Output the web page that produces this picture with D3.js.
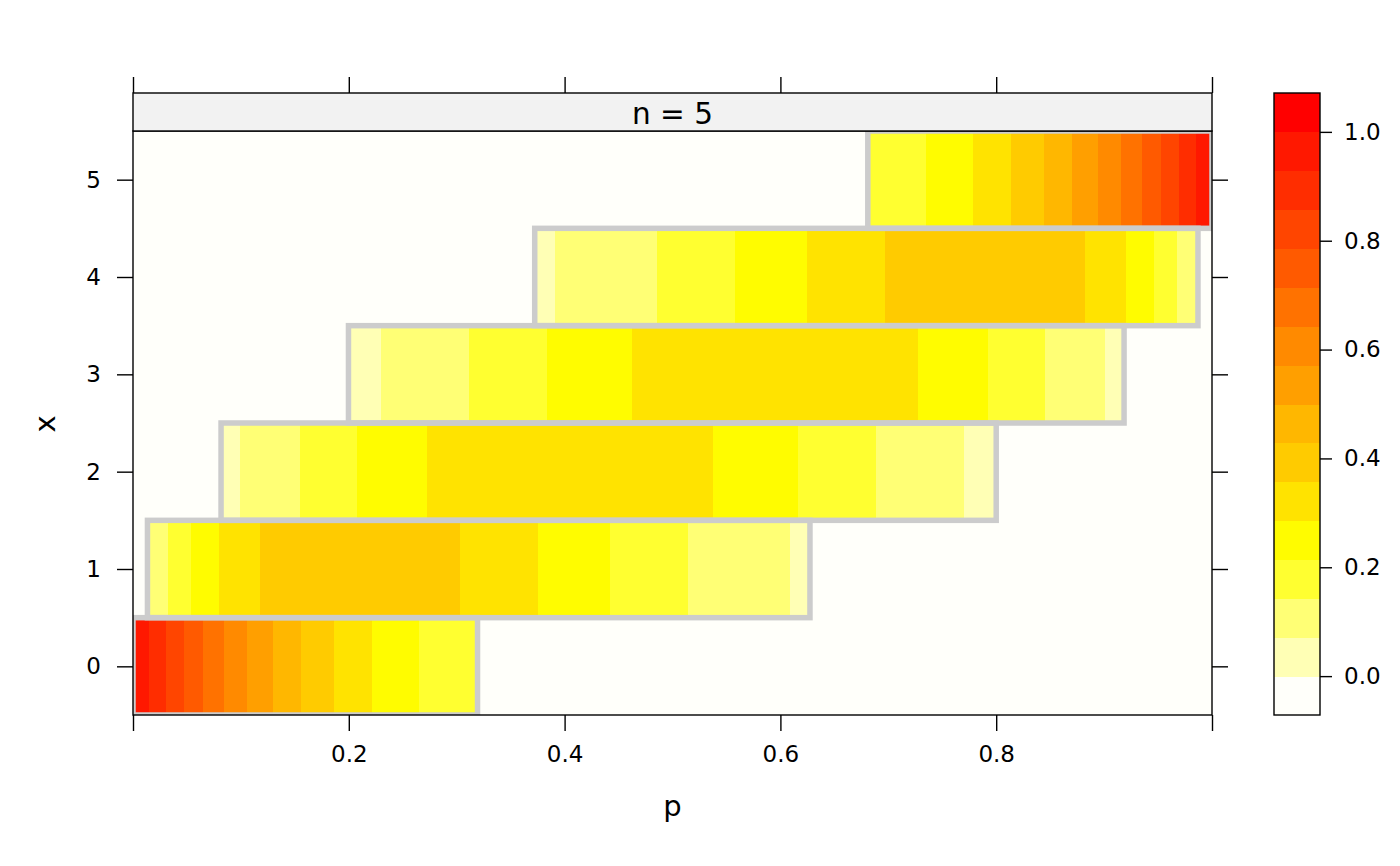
<!DOCTYPE html>
<html>
<head>
<meta charset="utf-8">
<script src="https://cdn.jsdelivr.net/npm/d3@7"></script>
<style>
  html, body { margin: 0; padding: 0; background: #ffffff; }
  svg { display: block; }
  text { font-family: "DejaVu Sans", sans-serif; fill: #000; }
</style>
</head>
<body>
<svg id="chart" width="1400" height="866"></svg>
<script>
// ---------------- data ----------------
const panelTitle = "n = 5";
const xLabel = "p";
const yLabel = "x";
const rowsX = [0, 1, 2, 3, 4, 5];

// outlined (accepted) p-range for each x
const regionLower = [0.0, 0.0134, 0.0816, 0.1997, 0.3723, 0.681];
const regionUpper = [0.3193, 0.6274, 0.800, 0.9185, 0.9870, 1.0];

// colour-band breakpoints inside each outlined range and the band values
const breaksX0 = [0.0147, 0.0304, 0.0471, 0.0651, 0.0846, 0.1059, 0.1295, 0.1559, 0.1861, 0.2216, 0.2651];
const valuesX0 = [0.96, 0.89, 0.82, 0.75, 0.68, 0.61, 0.54, 0.46, 0.39, 0.32, 0.25, 0.18];

const breaksX1 = [0.0152, 0.0326, 0.0534, 0.0797, 0.118, 0.3035, 0.3754, 0.442, 0.5146, 0.6087];
const valuesX1 = [0.06, 0.11, 0.18, 0.25, 0.32, 0.39, 0.32, 0.25, 0.18, 0.11, 0.06];

const breaksX2 = [0.0988, 0.1545, 0.2077, 0.2723, 0.5372, 0.6166, 0.6890, 0.7706];
const valuesX2 = [0.05, 0.11, 0.18, 0.25, 0.32, 0.25, 0.18, 0.11, 0.05];

const breaksX3 = [0.2294, 0.3110, 0.3834, 0.4628, 0.7277, 0.7923, 0.8455, 0.9012];
const valuesX3 = [0.05, 0.11, 0.18, 0.25, 0.32, 0.25, 0.18, 0.11, 0.05];

const breaksX4 = [0.3913, 0.4854, 0.558, 0.6246, 0.6965, 0.882, 0.9203, 0.9466, 0.9674, 0.9848];
const valuesX4 = [0.06, 0.11, 0.18, 0.25, 0.32, 0.39, 0.32, 0.25, 0.18, 0.11, 0.06];

const breaksX5 = [0.7349, 0.7784, 0.8139, 0.8441, 0.8706, 0.8941, 0.9154, 0.9349, 0.9529, 0.9696, 0.9853];
const valuesX5 = [0.18, 0.25, 0.32, 0.39, 0.46, 0.54, 0.61, 0.68, 0.75, 0.82, 0.89, 0.96];

// colour key levels: 16 intervals of width 1/14 from -1/14 to 15/14
const levelAt = [-1/14, 0, 1/14, 2/14, 3/14, 4/14, 5/14, 6/14, 7/14, 8/14, 9/14, 10/14, 11/14, 12/14, 13/14, 1, 15/14];
const levelColors = ["#FFFFFA", "#FFFFB5", "#FFFF75", "#FFFF30", "#FFFC00", "#FFE300", "#FFCB00", "#FFB700",
                     "#FF9F00", "#FF8A00", "#FF7200", "#FF5A00", "#FF4500", "#FF2D00", "#FF1800", "#FF0000"];

const pTicks = [0, 0.2, 0.4, 0.6, 0.8, 1.0];
const pTickLabels = ["", "0.2", "0.4", "0.6", "0.8", ""];
const xTicks = [0, 1, 2, 3, 4, 5];
const keyTicks = [0, 0.2, 0.4, 0.6, 0.8, 1.0];

// ---------------- build rows ----------------
const allBreaks = [breaksX0, breaksX1, breaksX2, breaksX3, breaksX4, breaksX5];
const allValues = [valuesX0, valuesX1, valuesX2, valuesX3, valuesX4, valuesX5];
const cells = [];
rowsX.forEach((xv, r) => {
  const edges = [regionLower[r], ...allBreaks[r], regionUpper[r]];
  allValues[r].forEach((v, k) => cells.push({x: xv, p0: edges[k], p1: edges[k + 1], value: v}));
});

// ---------------- layout ----------------
const svg = d3.select("#chart");
const L = 133, R = 1212, T = 131, B = 715, stripTop = 93;
const keyL = 1274, keyR = 1320, keyT = 93, keyB = 715;

const xScale = d3.scaleLinear().domain([0, 1]).range([L, R]);
const yScale = d3.scaleLinear().domain([-0.5, 5.5]).range([B, T]);
const colour = d3.scaleThreshold().domain(levelAt.slice(1, -1)).range(levelColors);
const keyScale = d3.scaleLinear().domain([levelAt[0], levelAt[levelAt.length - 1]]).range([keyB, keyT]);

svg.append("rect").attr("width", 1400).attr("height", 866).attr("fill", "#fff");

svg.append("clipPath").attr("id", "panelClip")
  .append("rect").attr("x", L).attr("y", T).attr("width", R - L).attr("height", B - T);

const panel = svg.append("g").attr("clip-path", "url(#panelClip)");
panel.append("rect").attr("x", L).attr("y", T).attr("width", R - L).attr("height", B - T)
  .attr("fill", colour(-0.01));

panel.selectAll("rect.cell").data(cells).join("rect").attr("class", "cell")
  .attr("x", d => xScale(d.p0))
  .attr("y", d => yScale(d.x + 0.5))
  .attr("width", d => xScale(d.p1) - xScale(d.p0) + 0.4)
  .attr("height", d => yScale(d.x - 0.5) - yScale(d.x + 0.5))
  .attr("fill", d => colour(d.value))
  .attr("shape-rendering", "crispEdges");

panel.selectAll("rect.region").data(rowsX).join("rect").attr("class", "region")
  .attr("x", (d, i) => xScale(regionLower[i]))
  .attr("y", d => yScale(d + 0.5))
  .attr("width", (d, i) => xScale(regionUpper[i]) - xScale(regionLower[i]))
  .attr("height", d => yScale(d - 0.5) - yScale(d + 0.5))
  .attr("fill", "none").attr("stroke", "#CCCCCC").attr("stroke-width", 5.5);

// panel border
svg.append("rect").attr("x", L).attr("y", T).attr("width", R - L).attr("height", B - T)
  .attr("fill", "none").attr("stroke", "#000").attr("stroke-width", 1.4);

// strip
svg.append("rect").attr("x", L).attr("y", stripTop).attr("width", R - L).attr("height", T - stripTop)
  .attr("fill", "#F2F2F2").attr("stroke", "#000").attr("stroke-width", 1.4);
svg.append("text").attr("x", (L + R) / 2).attr("y", 124).attr("text-anchor", "middle")
  .attr("font-size", 29.5).text(panelTitle);

// axes
function styleAxis(g) {
  g.select(".domain").remove();
  g.selectAll(".tick line").attr("stroke", "#000").attr("stroke-width", 1.4);
  g.selectAll(".tick text").attr("font-family", "DejaVu Sans").attr("font-size", 23).attr("fill", "#000");
}
const bottomAxis = d3.axisBottom(xScale).tickValues(pTicks).tickSize(16).tickPadding(15)
  .tickFormat((d, i) => pTickLabels[i]);
svg.append("g").attr("transform", `translate(0,${B})`).call(bottomAxis).call(styleAxis);

const topAxis = d3.axisTop(xScale).tickValues(pTicks).tickSize(16).tickFormat("");
svg.append("g").attr("transform", `translate(0,${stripTop})`).call(topAxis).call(styleAxis);

const leftAxis = d3.axisLeft(yScale).tickValues(xTicks).tickSize(16).tickPadding(16).tickFormat(d3.format("d"));
svg.append("g").attr("transform", `translate(${L},0)`).call(leftAxis).call(styleAxis);

const rightAxis = d3.axisRight(yScale).tickValues(xTicks).tickSize(16).tickFormat("");
svg.append("g").attr("transform", `translate(${R},0)`).call(rightAxis).call(styleAxis);

// axis titles
svg.append("text").attr("x", (L + R) / 2).attr("y", 816).attr("text-anchor", "middle")
  .attr("font-size", 29).text(xLabel);
svg.append("text").attr("transform", "translate(55,424) rotate(-90)").attr("text-anchor", "middle")
  .attr("font-size", 29).text(yLabel);

// colour key
const keyBins = levelColors.map((c, i) => ({lo: levelAt[i], hi: levelAt[i + 1], c}));
svg.selectAll("rect.key").data(keyBins).join("rect").attr("class", "key")
  .attr("x", keyL).attr("width", keyR - keyL)
  .attr("y", d => keyScale(d.hi)).attr("height", d => keyScale(d.lo) - keyScale(d.hi) + 0.5)
  .attr("fill", d => d.c).attr("shape-rendering", "crispEdges");
svg.append("rect").attr("x", keyL).attr("y", keyT).attr("width", keyR - keyL).attr("height", keyB - keyT)
  .attr("fill", "none").attr("stroke", "#000").attr("stroke-width", 1.4);
const keyAxis = d3.axisRight(keyScale).tickValues(keyTicks).tickSize(12).tickPadding(12).tickFormat(d3.format(".1f"));
svg.append("g").attr("transform", `translate(${keyR},0)`).call(keyAxis).call(styleAxis);
</script>
</body>
</html>
